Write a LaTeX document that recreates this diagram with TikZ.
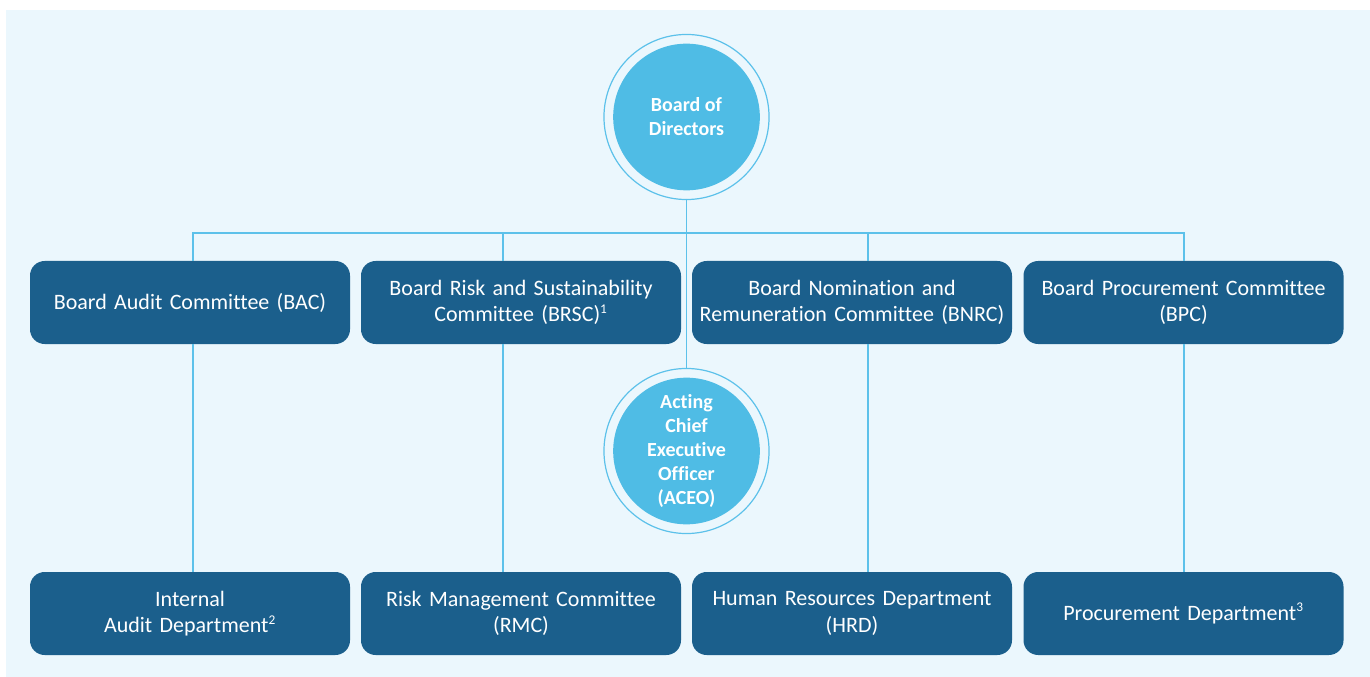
\documentclass[tikz,border=0pt]{standalone}
\usepackage{fontspec}
\setmainfont[Ligatures=NoCommon]{Carlito}
\usepackage{xcolor}
\usetikzlibrary{positioning}
\definecolor{pagebg}{RGB}{235, 247, 253}
\definecolor{boxblue}{RGB}{27, 95, 140}
\definecolor{skyblue}{RGB}{79, 188, 229}
\definecolor{linkblue}{RGB}{92, 193, 234}
\hyphenpenalty=10000

\begin{document}
\begin{tikzpicture}[
  x=0.75pt, y=-0.75pt,
  unit/.style={
    fill=boxblue, rounded corners=11pt, text=white,
    minimum width=240pt, minimum height=62.25pt,
    text width=238pt, align=center, inner sep=0pt,
    font=\fontsize{16.5}{20}\selectfont
  },
  chief/.style={
    circle, fill=skyblue, text=white, minimum size=110pt,
    inner sep=0pt, outer sep=6.5pt, align=center,
    font=\bfseries\fontsize{15}{18}\selectfont
  },
  ring/.style={draw=linkblue, line width=0.9pt},
  link/.style={draw=linkblue, line width=0.9pt}
]
  \useasboundingbox (0,0) rectangle (1370,677);
  \fill[pagebg] (6,10) rectangle (1370,677);

  % Leadership circles
  \node[chief] (bod) at (686.5, 117) {Board of\\Directors};
  \node[chief] (aceo) at (686.5, 451) {Acting\\Chief\\Executive\\Officer\\(ACEO)};
  \draw[ring] (bod.center) circle[radius=61.9pt];
  \draw[ring] (aceo.center) circle[radius=61.9pt];

  % Board committees (upper row)
  \node[unit] (bac) at (190, 302.5) {Board Audit Committee (BAC)};
  \node[unit] (brsc) at (521, 302.5) {Board Risk and Sustainability\\Committee (BRSC)\textsuperscript{\fontsize{10}{10}\selectfont 1}};
  \node[unit] (bnrc) at (852, 302.5) {Board Nomination and\\Remuneration Committee (BNRC)};
  \node[unit] (bpc) at (1183.5, 302.5) {Board Procurement Committee\\(BPC)};

  % Departments (lower row)
  \node[unit] (iad) at (190, 613.5) {Internal\\Audit Department\textsuperscript{\fontsize{10}{10}\selectfont 2}};
  \node[unit] (rmc) at (521, 613.5) {Risk Management Committee\\(RMC)};
  \node[unit] (hrd) at (852, 613.5) {Human Resources Department\\(HRD)};
  \node[unit] (pd) at (1183.5, 613.5) {Procurement Department\textsuperscript{\fontsize{10}{10}\selectfont 3}};

  % Connectors
  \coordinate (bus) at (686.5, 233);
  \draw[link] (bod.south) -- (aceo.north);
  \draw[link] ([xshift=2.25pt]bac.north) |- (bus) -| ([xshift=0.4pt]bpc.north);
  \draw[link] ([xshift=-13.5pt]brsc.north) -- ([xshift=-13.5pt]brsc.north |- bus);
  \draw[link] ([xshift=12pt]bnrc.north) -- ([xshift=12pt]bnrc.north |- bus);

  \draw[link] ([xshift=2.25pt]bac.south) -- ([xshift=2.25pt]iad.north);
  \draw[link] ([xshift=-13.5pt]brsc.south) -- ([xshift=-13.5pt]rmc.north);
  \draw[link] ([xshift=12pt]bnrc.south) -- ([xshift=12pt]hrd.north);
  \draw[link] ([xshift=0.4pt]bpc.south) -- ([xshift=0.4pt]pd.north);
\end{tikzpicture}
\end{document}
